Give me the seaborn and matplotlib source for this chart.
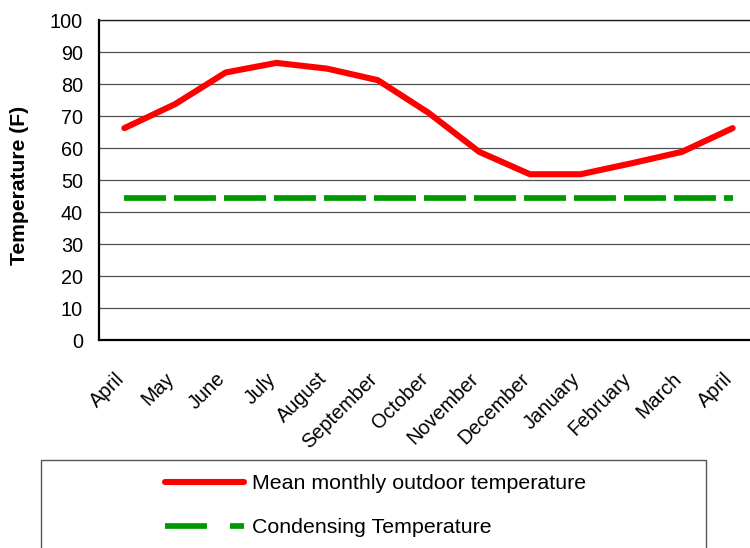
import matplotlib
matplotlib.use("Agg")
import matplotlib.pyplot as plt
import matplotlib.transforms as mtransforms
from matplotlib.lines import Line2D
from matplotlib.patches import Rectangle
import pandas as pd
import seaborn as sns

sns.set_style("white")
plt.rcParams["font.family"] = ["Liberation Sans", "DejaVu Sans"]
plt.rcParams["lines.scale_dashes"] = False
plt.rcParams["text.color"] = "black"
plt.rcParams["axes.labelcolor"] = "black"
plt.rcParams["xtick.labelcolor"] = "black"
plt.rcParams["ytick.labelcolor"] = "black"

MONTHS = [
    "April", "May", "June", "July", "August", "September", "October",
    "November", "December", "January", "February", "March", "April",
]
MEAN_TEMP = [66.2, 73.7, 83.6, 86.6, 84.8, 81.2, 71.0, 58.8, 51.8, 51.8, 55.2, 58.8, 66.2]
CONDENSING_TEMP = [44.4, 44.4, 44.4, 44.4, 44.4, 44.4, 44.4, 44.4, 44.4, 44.4, 44.4, 44.4, 44.4]
Y_TICKS = [0, 10, 20, 30, 40, 50, 60, 70, 80, 90, 100]

LABEL_MEAN = "Mean monthly outdoor temperature"
LABEL_COND = "Condensing Temperature"
RED = "#ff0000"
GREEN = "#009900"

df = pd.DataFrame(
    {
        "pos": range(len(MONTHS)),
        "month": MONTHS,
        "mean_temp": MEAN_TEMP,
        "condensing": CONDENSING_TEMP,
    }
)

W, H = 750, 548
fig = plt.figure(figsize=(W / 100, H / 100), dpi=100)
ax = fig.add_axes([99 / W, 1 - 340 / H, 659 / W, 320 / H])

ax.set_axisbelow(True)
ax.yaxis.grid(True, color="#505050", linewidth=0.9)
ax.xaxis.grid(False)

sns.lineplot(data=df, x="pos", y="mean_temp", color=RED, linewidth=4.4,
             solid_capstyle="round", solid_joinstyle="round", ax=ax, zorder=3)
sns.lineplot(data=df, x="pos", y="condensing", color=GREEN, linewidth=4.1, ax=ax, zorder=3)
green_line = ax.get_lines()[-1]
green_line.set_dashes([30.2, 5.8])
green_line.set_dash_capstyle("butt")

ax.set_xlim(-0.5, len(MONTHS) - 0.5)
ax.set_ylim(0, 100)
ax.set_yticks(Y_TICKS)
ax.set_xticks(range(len(MONTHS)))
ax.set_xticks([i - 0.5 for i in range(len(MONTHS) + 1)], minor=True)
ax.set_xticklabels(MONTHS, rotation=45, ha="right", va="top", rotation_mode="anchor")

ax.tick_params(axis="y", which="major", direction="out", length=5, width=1,
               color="#555555", labelsize=14.3, pad=6.5)
ax.tick_params(axis="x", which="major", length=0, labelsize=14.3, pad=21)
ax.tick_params(axis="x", which="minor", direction="out", length=3.6, width=1.2,
               color="#555555")
offset = mtransforms.ScaledTranslation(-10 / 100, 0, fig.dpi_scale_trans)
for lab in ax.get_xticklabels():
    lab.set_transform(lab.get_transform() + offset)

for side in ["left", "bottom"]:
    ax.spines[side].set_color("black")
    ax.spines[side].set_linewidth(1.6)
ax.spines["top"].set_color("#222222")
ax.spines["top"].set_linewidth(1.0)
ax.spines["right"].set_visible(False)

ax.set_xlabel("")
ax.set_ylabel("Temperature (F)", fontsize=15.2, fontweight="bold", color="black")
ax.yaxis.set_label_coords((29 - 99) / 659, (340 - 185) / 320)

# legend frame runs past the bottom of the image
fig.patches.append(
    Rectangle((41 / W, 0 - 0.05), 665 / W, (548 - 460) / H + 0.05,
              transform=fig.transFigure, fill=False, edgecolor="#555555",
              linewidth=1.0)
)
handles = [
    Line2D([], [], color=RED, linewidth=4.4, solid_capstyle="round"),
    Line2D([], [], color=GREEN, linewidth=4.1, dashes=[30.2, 16.6],
           dash_capstyle="butt"),
]
fig.legend(handles, [LABEL_MEAN, LABEL_COND], loc="upper center",
           bbox_to_anchor=(375.5 / W, 1 - 460 / H), frameon=False, fontsize=15.4,
           handlelength=3.7, handletextpad=0.4, labelspacing=1.17, borderpad=0.17)

fig.savefig("out.png", dpi=100)
